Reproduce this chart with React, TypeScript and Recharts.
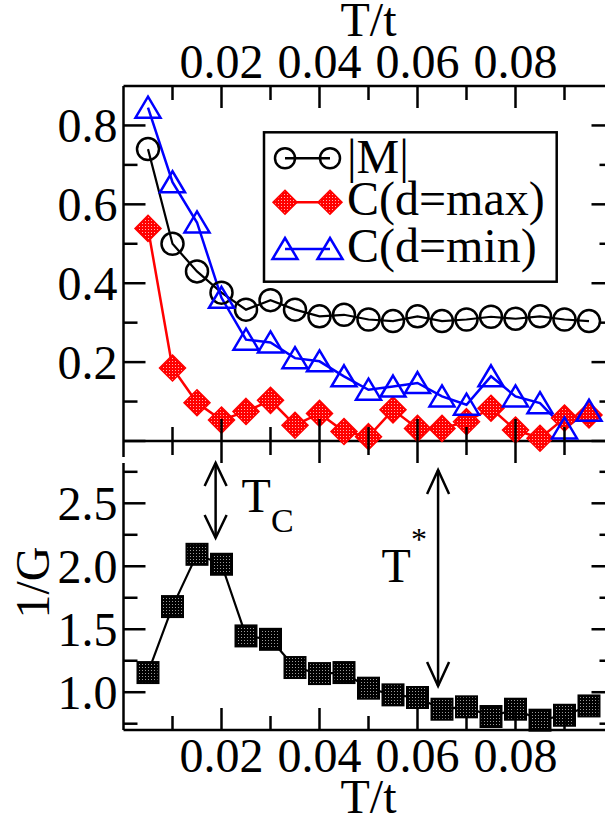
import { LineChart, Line, XAxis, YAxis, ReferenceLine, Label } from "recharts";

// temperatures T/t of the 19 samples
const T_VALUES = [
  0.005, 0.01, 0.015, 0.02, 0.025, 0.03, 0.035, 0.04, 0.045, 0.05, 0.055, 0.06,
  0.065, 0.07, 0.075, 0.08, 0.085, 0.09, 0.095,
];
const M_ABS = [
  0.74, 0.5, 0.43, 0.376, 0.333, 0.357, 0.333, 0.316, 0.32, 0.308, 0.304,
  0.316, 0.304, 0.308, 0.315, 0.31, 0.316, 0.308, 0.304,
];
const C_MAX = [
  0.539, 0.185, 0.097, 0.053, 0.075, 0.103, 0.04, 0.07, 0.024, 0.011, 0.079,
  0.032, 0.032, 0.049, 0.083, 0.028, 0.007, 0.058, 0.066,
];
const C_MIN = [
  0.845, 0.656, 0.554, 0.363, 0.257, 0.25, 0.21, 0.202, 0.164, 0.13, 0.138,
  0.147, 0.113, 0.092, 0.164, 0.113, 0.096, 0.032, 0.077,
];
const INV_G = [
  1.156, 1.68, 2.095, 2.016, 1.447, 1.42, 1.196, 1.148, 1.156, 1.032, 0.979,
  0.958, 0.865, 0.884, 0.807, 0.865, 0.778, 0.817, 0.891,
];

const X_TICKS = [0.01, 0.02, 0.03, 0.04, 0.05, 0.06, 0.07, 0.08, 0.09];
const X_LABELS = [0.02, 0.04, 0.06, 0.08];
const TOP_Y_TICKS = [0, 0.1, 0.2, 0.3, 0.4, 0.5, 0.6, 0.7, 0.8];
const TOP_Y_MAJOR = [0, 0.2, 0.4, 0.6, 0.8];
const TOP_Y_LABELS = [0.2, 0.4, 0.6, 0.8];
const BOT_Y_TICKS = [0.75, 1, 1.25, 1.5, 1.75, 2, 2.25, 2.5, 2.75];
const BOT_Y_LABELS = [1, 1.5, 2, 2.5];

// annotation arrows (data coords)
const TC_X = 0.0188;
const TC_Y = [2.82, 2.225];
const TSTAR_X = 0.0642;
const TSTAR_Y = [2.765, 1.05];

const FONT = "Liberation Serif, Times New Roman, Times, serif";
const TXT = { fontFamily: FONT };
const AX = 2.5;
const FS = 48;

const near = (v: number, list: number[]) =>
  list.some((l) => Math.abs(l - v) < 1e-6);

type TickProps = { x: number; y: number; payload: { value: number } };

function topXTick(p: TickProps) {
  const v = p.payload.value;
  const major = near(v, X_LABELS);
  return (
    <g key={`tx${v}`}>
      <line x1={p.x} x2={p.x} y1={p.y} y2={p.y + (major ? 22 : 14)} stroke="#000" strokeWidth={AX} />
      {major && (
        <text x={p.x} y={p.y - 8} textAnchor="middle" fontSize={FS} fontFamily={FONT} style={TXT} fill="#000">
          {v.toFixed(2)}
        </text>
      )}
    </g>
  );
}

function zeroXTick(p: TickProps) {
  const v = p.payload.value;
  const len = near(v, X_LABELS) ? 22 : 14;
  return (
    <g key={`zx${v}`}>
      <line x1={p.x} x2={p.x} y1={p.y - len} y2={p.y + len} stroke="#000" strokeWidth={AX} />
    </g>
  );
}

function bottomXTick(p: TickProps) {
  const v = p.payload.value;
  const major = near(v, X_LABELS);
  return (
    <g key={`bx${v}`}>
      <line x1={p.x} x2={p.x} y1={p.y} y2={p.y - (major ? 22 : 14)} stroke="#000" strokeWidth={AX} />
      {major && (
        <text x={p.x} y={p.y + 42} textAnchor="middle" fontSize={FS} fontFamily={FONT} style={TXT} fill="#000">
          {v.toFixed(2)}
        </text>
      )}
    </g>
  );
}

function makeYTick(major: number[], labels: number[], digits: number, side: "left" | "right", extendZero: boolean) {
  return (p: TickProps) => {
    const v = p.payload.value;
    const len = near(v, major) ? 22 : 14;
    const dir = side === "left" ? 1 : -1;
    return (
      <g key={`${side}${v}`}>
        <line x1={p.x} x2={p.x + dir * len} y1={p.y} y2={p.y} stroke="#000" strokeWidth={AX} />
        {extendZero && Math.abs(v) < 1e-9 && (
          <line x1={p.x} x2={p.x} y1={p.y} y2={p.y + 16} stroke="#000" strokeWidth={AX} />
        )}
        {side === "left" && near(v, labels) && (
          <text x={p.x - 6} y={p.y + 16.5} textAnchor="end" fontSize={FS} fontFamily={FONT} style={TXT} fill="#000">
            {v.toFixed(digits)}
          </text>
        )}
      </g>
    );
  };
}

/* ----------------------------- markers ----------------------------- */
type DotProps = { cx?: number; cy?: number; index?: number };

const circleDot = (p: DotProps) => (
  <circle key={`c${p.index}`} cx={p.cx} cy={p.cy} r={11} fill="none" stroke="#000" strokeWidth={2.5} />
);

const diamondPts = (x: number, y: number, s: number) =>
  `${x},${y - s} ${x + s},${y} ${x},${y + s} ${x - s},${y}`;

const diamondDot = (p: DotProps) => (
  <polygon
    key={`d${p.index}`}
    points={diamondPts(p.cx ?? 0, p.cy ?? 0, 13)}
    fill="url(#redDots)"
    stroke="#ff0000"
    strokeWidth={1.5}
  />
);

const trianglePts = (x: number, y: number) =>
  `${x},${y - 11} ${x + 12.5},${y + 10} ${x - 12.5},${y + 10}`;

const triangleDot = (p: DotProps) => (
  <polygon
    key={`t${p.index}`}
    points={trianglePts(p.cx ?? 0, p.cy ?? 0)}
    fill="none"
    stroke="#0000ff"
    strokeWidth={2.5}
  />
);

const squareDot = (p: DotProps) => (
  <rect
    key={`s${p.index}`}
    x={(p.cx ?? 0) - 10.5}
    y={(p.cy ?? 0) - 10.5}
    width={21}
    height={21}
    fill="url(#blackDots)"
    stroke="#000"
    strokeWidth={2}
  />
);

function Patterns({ suffix = "" }: { suffix?: string }) {
  return (
    <defs>
      <pattern id={`redDots${suffix}`} width={3} height={3} patternUnits="userSpaceOnUse">
        <rect width={3} height={3} fill="#ff0000" />
        <rect x={1} y={1} width={1} height={1} fill="#ffb0b0" />
      </pattern>
      <pattern id={`blackDots${suffix}`} width={3} height={3} patternUnits="userSpaceOnUse">
        <rect width={3} height={3} fill="#000" />
        <rect x={1} y={1} width={1} height={1} fill="#9a9a9a" />
      </pattern>
    </defs>
  );
}

/* ----------------------------- arrows ----------------------------- */
type SegProps = { x1?: number; y1?: number; x2?: number; y2?: number };

function arrowShape(kind: "tc" | "tstar") {
  return (p: SegProps) => {
    const x = p.x1 ?? 0;
    const top = Math.min(p.y1 ?? 0, p.y2 ?? 0);
    const bot = Math.max(p.y1 ?? 0, p.y2 ?? 0);
    const hl = kind === "tc" ? 23 : 24;
    return (
      <g>
        <line x1={x} x2={x} y1={top} y2={bot} stroke="#000" strokeWidth={2.5} />
        <polyline points={`${x - 11},${top + hl} ${x},${top} ${x + 11},${top + hl}`} fill="none" stroke="#000" strokeWidth={2.5} />
        <polyline points={`${x - 11},${bot - hl} ${x},${bot} ${x + 11},${bot - hl}`} fill="none" stroke="#000" strokeWidth={2.5} />
        {kind === "tc" ? (
          <text x={x + 26} y={top + 49} fontSize={FS} fontFamily={FONT} style={TXT} fill="#000">
            T<tspan fontSize={34} dy={20}>C</tspan>
          </text>
        ) : (
          <text x={x - 56.5} y={top + 111.7} fontSize={FS} fontFamily={FONT} style={TXT} fill="#000">
            T<tspan fontSize={32} dy={-31.7}>*</tspan>
          </text>
        )}
      </g>
    );
  };
}

/* ----------------------------- legend ----------------------------- */
const LEGEND_ITEMS = [
  { label: "|M|", kind: "circle" },
  { label: "C(d=max)", kind: "diamond" },
  { label: "C(d=min)", kind: "triangle" },
];
const LEGEND_SYM_Y = [28.3, 72.3, 119];
const LEGEND_TEXT_Y = [43.3, 85, 132];

function LegendBox() {
  return (
    <svg width={298} height={156} style={{ position: "absolute", left: 262, top: 130 }}>
      <Patterns suffix="L" />
      <rect x={2} y={2.3} width={292.7} height={149.4} fill="#fff" stroke="#000" strokeWidth={2.5} />
      {LEGEND_ITEMS.map((it, i) => {
        const y = LEGEND_SYM_Y[i];
        const xs = [23, 68];
        const color = it.kind === "circle" ? "#000" : it.kind === "diamond" ? "#ff0000" : "#0000ff";
        return (
          <g key={it.label}>
            <line x1={xs[0]} x2={xs[1]} y1={y} y2={y} stroke={color} strokeWidth={2.5} />
            {xs.map((x) =>
              it.kind === "circle" ? (
                <circle key={x} cx={x} cy={y} r={10} fill="none" stroke="#000" strokeWidth={2.5} />
              ) : it.kind === "diamond" ? (
                <polygon key={x} points={diamondPts(x, y, 12)} fill="url(#redDotsL)" stroke="#ff0000" strokeWidth={1.5} />
              ) : (
                <polygon key={x} points={trianglePts(x, y)} fill="none" stroke="#0000ff" strokeWidth={2.5} />
              ),
            )}
            <text x={85} y={LEGEND_TEXT_Y[i]} fontSize={FS} fontFamily={FONT} style={TXT} fill="#000">
              {it.label}
            </text>
          </g>
        );
      })}
    </svg>
  );
}

/* ----------------------------- App ----------------------------- */
export default function App() {
  const topRows = T_VALUES.map((t, i) => ({ t, m: M_ABS[i], cmax: C_MAX[i], cmin: C_MIN[i] }));
  const botRows = T_VALUES.map((t, i) => ({ t, g: INV_G[i] }));

  return (
    <div style={{ position: "absolute", left: 0, top: 0, width: 605, height: 822, overflow: "hidden", background: "#fff" }}>
      {/* lower panel: 1/G */}
      <div style={{ position: "absolute", left: 0, top: 0 }}>
        <LineChart width={640} height={822} data={botRows} margin={{ top: 463, right: 16.5, bottom: 82, left: 113.5 }}>
          <Patterns />
          <XAxis
            dataKey="t"
            type="number"
            domain={[0, 0.1]}
            ticks={X_TICKS}
            interval={0}
            height={10}
            tickSize={0}
            tickMargin={0}
            tickLine={false}
            axisLine={{ stroke: "#000", strokeWidth: AX }}
            tick={bottomXTick}
            label={
              <Label
                content={(lp: any) => {
                  const vb = lp.viewBox || {};
                  return (
                    <text x={vb.x + vb.width / 2} y={vb.y + 83} textAnchor="middle" fontSize={FS} fontFamily={FONT} style={TXT} fill="#000">
                      T/t
                    </text>
                  );
                }}
              />
            }
          />
          <YAxis
            type="number"
            domain={[0.7, 2.82]}
            ticks={BOT_Y_TICKS}
            interval={0}
            width={10}
            tickSize={0}
            tickMargin={0}
            tickLine={false}
            axisLine={{ stroke: "#000", strokeWidth: AX }}
            tick={makeYTick(BOT_Y_LABELS, BOT_Y_LABELS, 1, "left", false)}
            label={
              <Label
                content={(lp: any) => {
                  const vb = lp.viewBox || {};
                  const x = vb.x - 64.5;
                  const y = vb.y + vb.height / 2 - 14;
                  return (
                    <text x={x} y={y} transform={`rotate(-90, ${x}, ${y})`} textAnchor="middle" fontSize={FS} fontFamily={FONT} style={TXT} fill="#000">
                      1/G
                    </text>
                  );
                }}
              />
            }
          />
          <YAxis
            yAxisId="right"
            orientation="right"
            type="number"
            domain={[0.7, 2.82]}
            allowDataOverflow
            ticks={BOT_Y_TICKS}
            interval={0}
            width={10}
            tickSize={0}
            tickMargin={0}
            tickLine={false}
            axisLine={{ stroke: "#000", strokeWidth: AX }}
            tick={makeYTick(BOT_Y_LABELS, [], 1, "right", false)}
          />
          <Line dataKey="g" stroke="#000" strokeWidth={2.2} dot={squareDot} activeDot={false} isAnimationActive={false} />
          <ReferenceLine
            segment={[{ x: TC_X, y: TC_Y[0] }, { x: TC_X, y: TC_Y[1] }]}
            ifOverflow="visible"
            shape={arrowShape("tc")}
          />
          <ReferenceLine
            segment={[{ x: TSTAR_X, y: TSTAR_Y[0] }, { x: TSTAR_X, y: TSTAR_Y[1] }]}
            ifOverflow="visible"
            shape={arrowShape("tstar")}
          />
        </LineChart>
      </div>

      {/* upper panel: |M| and correlations */}
      <div style={{ position: "absolute", left: 0, top: 0 }}>
        <LineChart width={640} height={470} data={topRows} margin={{ top: 76, right: 16.5, bottom: 19, left: 113.5 }}>
          <Patterns suffix="" />
          <XAxis
            xAxisId="top"
            dataKey="t"
            orientation="top"
            type="number"
            domain={[0, 0.1]}
            ticks={X_TICKS}
            interval={0}
            height={10}
            tickSize={0}
            tickMargin={0}
            tickLine={false}
            axisLine={{ stroke: "#000", strokeWidth: AX }}
            tick={topXTick}
            label={
              <Label
                content={(lp: any) => {
                  const vb = lp.viewBox || {};
                  return (
                    <text x={vb.x + vb.width / 2} y={vb.y - 40} textAnchor="middle" fontSize={FS} fontFamily={FONT} style={TXT} fill="#000">
                      T/t
                    </text>
                  );
                }}
              />
            }
          />
          <XAxis
            dataKey="t"
            type="number"
            domain={[0, 0.1]}
            ticks={X_TICKS}
            interval={0}
            height={10}
            tickSize={0}
            tickMargin={0}
            tickLine={false}
            axisLine={{ stroke: "#000", strokeWidth: AX }}
            tick={zeroXTick}
          />
          <YAxis
            type="number"
            domain={[0, 0.9]}
            ticks={TOP_Y_TICKS}
            interval={0}
            width={10}
            tickSize={0}
            tickMargin={0}
            tickLine={false}
            axisLine={{ stroke: "#000", strokeWidth: AX }}
            tick={makeYTick(TOP_Y_MAJOR, TOP_Y_LABELS, 1, "left", true)}
          />
          <YAxis
            yAxisId="right"
            orientation="right"
            type="number"
            domain={[0, 0.9]}
            allowDataOverflow
            ticks={TOP_Y_TICKS}
            interval={0}
            width={10}
            tickSize={0}
            tickMargin={0}
            tickLine={false}
            axisLine={{ stroke: "#000", strokeWidth: AX }}
            tick={makeYTick(TOP_Y_MAJOR, [], 1, "right", true)}
          />
          <Line xAxisId="top" dataKey="m" stroke="#000" strokeWidth={2.2} dot={circleDot} activeDot={false} isAnimationActive={false} />
          <Line dataKey="cmax" stroke="#ff0000" strokeWidth={2.5} dot={diamondDot} activeDot={false} isAnimationActive={false} />
          <Line dataKey="cmin" stroke="#0000ff" strokeWidth={2.5} dot={triangleDot} activeDot={false} isAnimationActive={false} />
        </LineChart>
      </div>

      <LegendBox />
    </div>
  );
}
